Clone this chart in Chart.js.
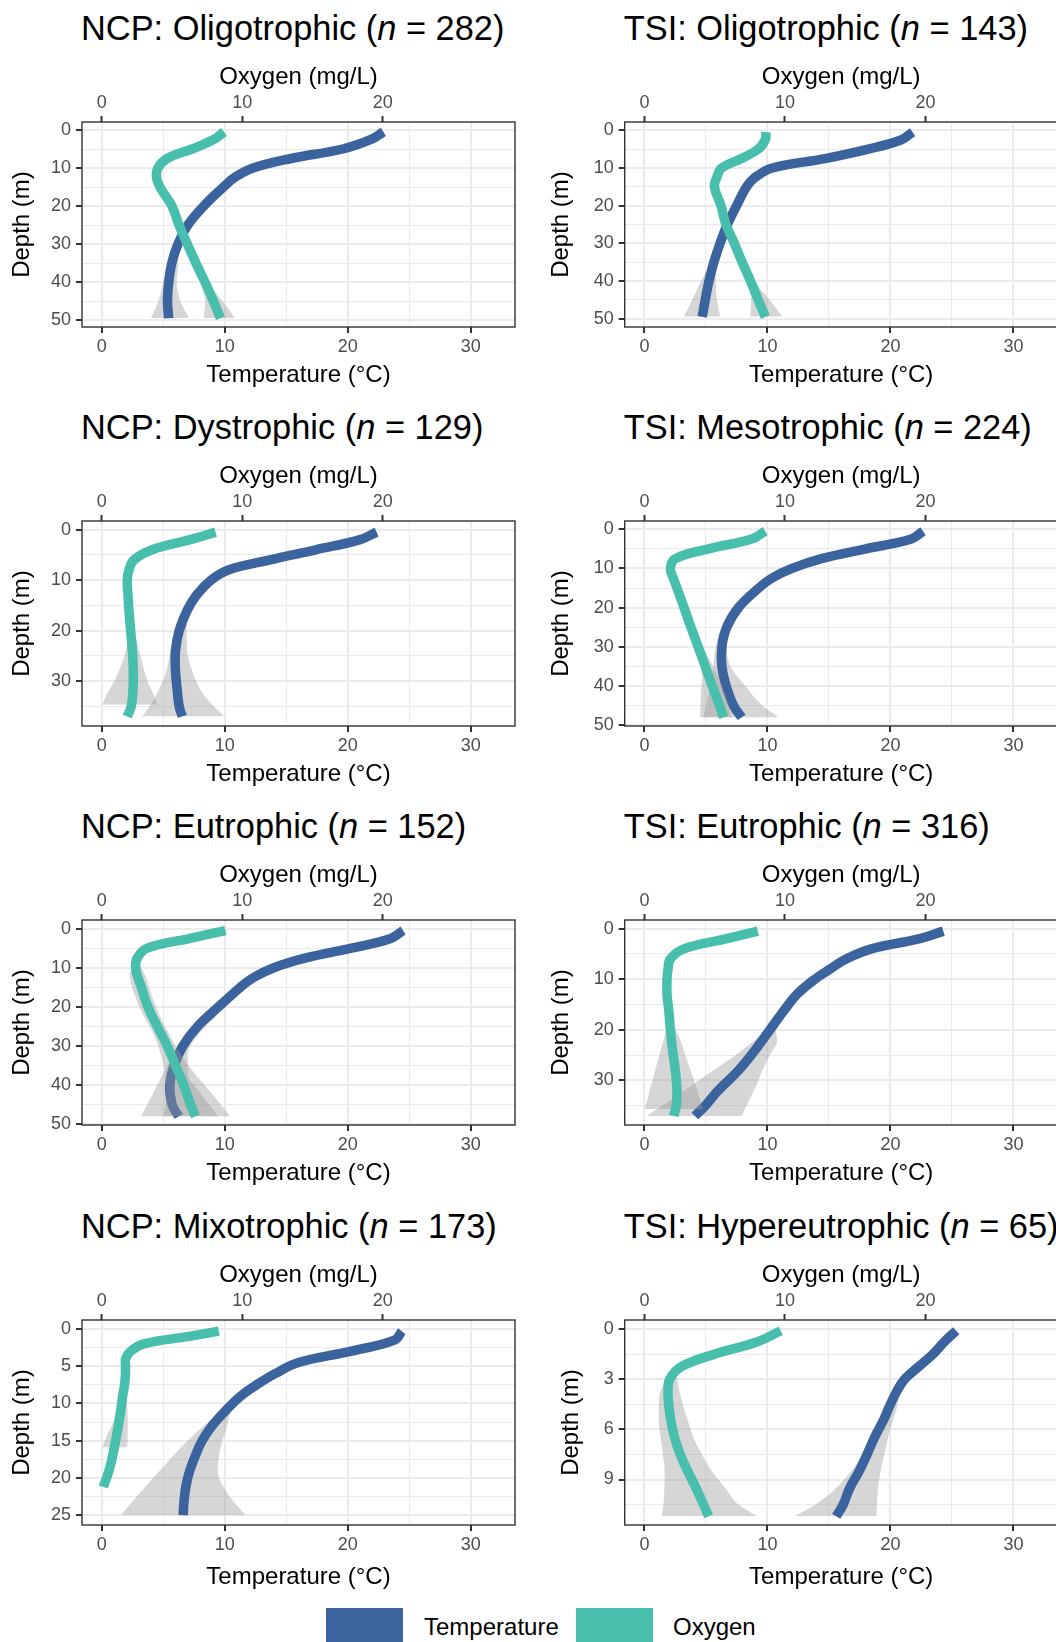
<!DOCTYPE html>
<html lang="en">
<head>
    <meta charset="UTF-8">
    <title>Temperature and oxygen profiles</title>
    <script src="https://cdn.jsdelivr.net/npm/chart.js"></script>
    <style>
        html, body {
            margin: 0;
            padding: 0;
            background: #fff;
            overflow: hidden;
            font-family: "Liberation Sans", Arial, sans-serif;
        }
        #fig {
            position: relative;
            width: 1056px;
            height: 1642px;
            overflow: hidden;
        }
        #fig canvas { position: absolute; }
        .ptitle {
            position: absolute;
            font-size: 34.4px;
            line-height: 34px;
            color: #000;
            white-space: nowrap;
        }
        .key {
            position: absolute;
            top: 1608px;
            width: 77px;
            height: 40px;
        }
        .keylabel {
            position: absolute;
            top: 1615px;
            font-size: 24px;
            line-height: 24px;
            color: #000;
        }
    </style>
</head>
<body>
<div id="fig"></div>

<script>
// panel titles
const schemes = ['NCP', 'TSI', 'NCP', 'TSI', 'NCP', 'TSI', 'NCP', 'TSI'];
const classes = ['Oligotrophic', 'Oligotrophic', 'Dystrophic', 'Mesotrophic',
                 'Eutrophic', 'Eutrophic', 'Mixotrophic', 'Hypereutrophic'];
const sampleSizes = [282, 143, 129, 224, 152, 316, 173, 65];

// axis ticks
const tempTicks = [0, 10, 20, 30];
const tempMinor = [5, 15, 25];
const oxyTicks = [0, 10, 20];
const depthTicks50 = [0, 10, 20, 30, 40, 50];
const depthMinor50 = [5, 15, 25, 35, 45];
const depthTicks30 = [0, 10, 20, 30];
const depthMinor30 = [5, 15, 25, 35];
const depthTicks25 = [0, 5, 10, 15, 20, 25];
const depthMinor25 = [2.5, 7.5, 12.5, 17.5, 22.5];
const depthTicks9 = [0, 3, 6, 9];
const depthMinor9 = [1.5, 4.5, 7.5, 10.5];

// NCP oligotrophic
const ncpOligoDepth = [0.5, 2.5, 5, 7.5, 10, 12.5, 15, 20, 25, 30, 35, 40, 45, 49.5];
const ncpOligoTemp = [22.9, 21.9, 19.6, 15.4, 12.3, 10.8, 9.9, 8.3, 7.0, 6.2, 5.7, 5.45, 5.35, 5.45];
const ncpOligoOxy = [8.7, 7.97, 6.43, 4.66, 4.0, 3.9, 4.14, 5.0, 5.5, 6.1, 6.7, 7.35, 7.95, 8.45];
const ncpOligoTempBandDepth = [30, 36, 40, 45, 49.5];
const ncpOligoTempLo = [6.2, 5.3, 5.0, 4.6, 4.0];
const ncpOligoTempHi = [6.2, 6.2, 6.1, 6.4, 7.1];
const ncpOligoOxyBandDepth = [33, 37, 41, 45, 49.5];
const ncpOligoOxyLo = [6.45, 6.85, 7.1, 7.35, 7.26];
const ncpOligoOxyHi = [6.45, 7.1, 7.75, 8.6, 9.5];
const ncpOligoRange = [-2.1, 51.8];

// TSI oligotrophic
const tsiOligoDepth = [0.5, 2.5, 5, 7.5, 10, 12.5, 15, 20, 25, 30, 35, 40, 45, 49.5];
const tsiOligoTemp = [21.8, 20.9, 18.2, 14.7, 10.4, 9.0, 8.3, 7.5, 6.75, 6.15, 5.65, 5.25, 4.95, 4.7];
const tsiOligoOxy = [8.64, 8.6, 8.1, 6.9, 5.5, 5.15, 4.98, 5.45, 5.8, 6.4, 6.95, 7.55, 8.1, 8.6];
const tsiOligoTempBandDepth = [32, 36, 40, 45, 49.5];
const tsiOligoTempLo = [5.95, 5.3, 4.6, 3.9, 3.2];
const tsiOligoTempHi = [5.95, 5.85, 5.8, 5.9, 6.16];
const tsiOligoOxyBandDepth = [33, 37, 41, 45, 49.5];
const tsiOligoOxyLo = [6.7, 7.05, 7.35, 7.6, 7.52];
const tsiOligoOxyHi = [6.7, 7.3, 8.0, 8.9, 9.82];
const tsiOligoRange = [-2.2, 52.2];

// NCP dystrophic
const ncpDysDepth = [0.5, 2, 4, 6, 8, 10, 13, 16, 20, 24, 28, 32, 35, 37];
const ncpDysTemp = [22.35, 21.0, 17.4, 13.7, 10.3, 8.9, 7.7, 6.95, 6.3, 6.0, 6.0, 6.15, 6.3, 6.55];
const ncpDysOxy = [8.1, 6.3, 3.6, 2.3, 1.94, 1.82, 1.87, 1.94, 2.06, 2.18, 2.25, 2.22, 2.1, 1.82];
const ncpDysTempBandDepth = [15, 20, 24, 28, 32, 35, 37];
const ncpDysTempLo = [7.2, 6.0, 5.6, 5.25, 4.6, 3.9, 3.3];
const ncpDysTempHi = [7.2, 6.9, 6.95, 7.35, 8.1, 9.1, 9.97];
const ncpDysOxyBandDepth = [18, 22, 26, 30, 33, 34.7];
const ncpDysOxyLo = [2.0, 1.85, 1.5, 0.9, 0.3, 0.05];
const ncpDysOxyHi = [2.1, 2.5, 2.85, 3.25, 3.75, 3.95];
const ncpDysRange = [-1.7, 38.9];

// TSI mesotrophic
const tsiMesoDepth = [0.5, 2.5, 5, 7.5, 10, 12.5, 15, 20, 25, 30, 35, 40, 45, 48];
const tsiMesoTemp = [22.65, 21.7, 18.0, 14.4, 12.0, 10.35, 9.3, 7.65, 6.7, 6.3, 6.3, 6.65, 7.25, 7.9];
const tsiMesoOxy = [8.59, 7.64, 4.57, 2.2, 1.85, 2.06, 2.32, 2.82, 3.31, 3.83, 4.33, 4.83, 5.35, 5.63];
const tsiMesoTempBandDepth = [20, 25, 30, 35, 40, 45, 48];
const tsiMesoTempLo = [7.6, 6.3, 5.8, 5.6, 5.35, 5.0, 4.8];
const tsiMesoTempHi = [7.75, 7.0, 6.7, 7.0, 8.2, 9.6, 10.9];
const tsiMesoOxyBandDepth = [28, 33, 38, 43, 48];
const tsiMesoOxyLo = [3.62, 3.9, 4.1, 4.0, 3.97];
const tsiMesoOxyHi = [3.7, 4.6, 5.3, 5.85, 6.2];
const tsiMesoRange = [-2.1, 50.2];

// NCP eutrophic
const ncpEuDepth = [0.5, 2.5, 5, 7.5, 10, 12.5, 15, 20, 25, 30, 35, 40, 45, 48];
const ncpEuTemp = [24.5, 23.5, 20.3, 16.6, 14.0, 12.35, 11.27, 9.5, 7.8, 6.6, 5.9, 5.54, 5.73, 6.27];
const ncpEuOxy = [8.8, 6.3, 3.24, 2.53, 2.41, 2.58, 2.82, 3.29, 3.95, 4.66, 5.25, 5.84, 6.32, 6.67];
const ncpEuTempBandDepth = [17, 22, 27, 32, 37, 42, 48];
const ncpEuTempLo = [10.6, 8.7, 7.0, 5.9, 5.0, 4.2, 3.2];
const ncpEuTempHi = [10.6, 9.4, 7.9, 7.0, 7.0, 8.0, 9.5];
const ncpEuOxyBandDepth = [8, 12, 17, 22, 27, 32, 37, 42, 48];
const ncpEuOxyLo = [2.5, 2.0, 2.35, 2.95, 3.7, 4.2, 4.5, 4.6, 4.42];
const ncpEuOxyHi = [2.5, 3.1, 3.55, 4.1, 4.8, 5.6, 6.6, 7.8, 9.15];
const ncpEuRange = [-2.2, 50.2];

// TSI eutrophic
const tsiEuDepth = [0.5, 2, 4, 6, 8, 10, 13, 16, 20, 24, 28, 32, 35, 37];
const tsiEuTemp = [24.3, 22.4, 18.46, 16.4, 15.1, 13.86, 12.4, 11.4, 10.2, 9.0, 7.65, 6.0, 4.95, 4.1];
const tsiEuOxy = [8.07, 5.87, 2.8, 1.85, 1.68, 1.61, 1.61, 1.73, 1.85, 2.0, 2.2, 2.32, 2.27, 2.08];
const tsiEuTempBandDepth = [19, 22, 25, 28, 31, 34, 37];
const tsiEuTempLo = [10.5, 9.0, 7.4, 5.6, 3.84, 2.03, 0.2];
const tsiEuTempHi = [10.5, 10.8, 10.2, 9.6, 9.1, 8.5, 7.9];
const tsiEuOxyBandDepth = [18, 22, 26, 30, 33, 35.7];
const tsiEuOxyLo = [1.8, 1.35, 0.97, 0.57, 0.28, 0.02];
const tsiEuOxyHi = [1.9, 2.55, 3.03, 3.53, 3.88, 4.2];
const tsiEuRange = [-1.7, 38.8];

// NCP mixotrophic (oxygen profile is shallower)
const ncpMixoDepth = [0.3, 1.5, 3, 4.5, 6, 7.5, 9, 11, 13, 15, 17, 19, 21, 23, 25];
const ncpMixoTemp = [24.4, 23.8, 20.2, 16.0, 14.1, 12.6, 11.3, 10.05, 8.97, 8.16, 7.62, 7.16, 6.86, 6.7, 6.62];
const ncpMixoOxyDepth = [0.3, 1, 2, 3, 4, 5, 7, 9, 11, 13, 15, 17, 19, 21.2];
const ncpMixoOxy = [8.33, 6.2, 3.0, 2.05, 1.7, 1.7, 1.66, 1.49, 1.35, 1.18, 0.99, 0.78, 0.52, 0.12];
const ncpMixoTempBandDepth = [10, 13, 16, 19, 22, 25];
const ncpMixoTempLo = [10.6, 8.3, 6.4, 4.73, 3.1, 1.54];
const ncpMixoTempHi = [10.6, 10.2, 9.65, 9.43, 10.2, 11.7];
const ncpMixoOxyBandDepth = [8, 10, 12, 14, 15.9];
const ncpMixoOxyLo = [1.55, 1.3, 0.95, 0.45, 0.05];
const ncpMixoOxyHi = [1.6, 1.8, 1.85, 1.85, 1.82];
const ncpMixoRange = [-1.2, 26.3];

// TSI hypereutrophic
const tsiHyperDepth = [0.1, 0.75, 1.5, 2.25, 3, 3.75, 4.5, 5.5, 6.5, 7.5, 8.5, 9.5, 10.5, 11.2];
const tsiHyperTemp = [25.35, 24.4, 23.46, 22.3, 21.16, 20.5, 20.0, 19.4, 18.7, 18.1, 17.46, 16.7, 16.16, 15.6];
const tsiHyperOxy = [9.7, 8.1, 5.0, 2.63, 1.8, 1.68, 1.73, 1.89, 2.15, 2.55, 3.08, 3.67, 4.21, 4.57];
const tsiHyperTempBandDepth = [3.5, 4.5, 5.5, 6.5, 7.5, 8.5, 9.5, 10.5, 11.2];
const tsiHyperTempLo = [20.7, 19.8, 19.1, 18.46, 17.8, 16.8, 15.6, 13.9, 12.24];
const tsiHyperTempHi = [20.7, 20.6, 20.2, 19.8, 19.5, 19.2, 19.0, 18.9, 18.86];
const tsiHyperOxyBandDepth = [2.6, 3.5, 4.5, 5.5, 6.5, 7.5, 8.5, 9.5, 10.5, 11.2];
const tsiHyperOxyLo = [2.15, 1.25, 1.02, 1.02, 1.16, 1.32, 1.44, 1.42, 1.35, 1.25];
const tsiHyperOxyHi = [2.25, 2.44, 2.72, 3.1, 3.5, 4.09, 4.8, 5.75, 6.7, 8.0];
const tsiHyperRange = [-0.54, 11.72];

const FONT = '"Liberation Sans", Arial, sans-serif';
const BLUE = '#3B639D';
const TEAL = '#48BFAC';
const BAND = 'rgba(153,153,153,0.4)';
const GRID = '#EBEBEB';
const DARK = '#333333';

// panel table, same order as the titles
const panels = [
    {temp: [ncpOligoDepth, ncpOligoTemp], oxy: [ncpOligoDepth, ncpOligoOxy],
     tBand: [ncpOligoTempBandDepth, ncpOligoTempLo, ncpOligoTempHi],
     oBand: [ncpOligoOxyBandDepth, ncpOligoOxyLo, ncpOligoOxyHi],
     range: ncpOligoRange, ticks: depthTicks50, minor: depthMinor50},
    {temp: [tsiOligoDepth, tsiOligoTemp], oxy: [tsiOligoDepth, tsiOligoOxy],
     tBand: [tsiOligoTempBandDepth, tsiOligoTempLo, tsiOligoTempHi],
     oBand: [tsiOligoOxyBandDepth, tsiOligoOxyLo, tsiOligoOxyHi],
     range: tsiOligoRange, ticks: depthTicks50, minor: depthMinor50},
    {temp: [ncpDysDepth, ncpDysTemp], oxy: [ncpDysDepth, ncpDysOxy],
     tBand: [ncpDysTempBandDepth, ncpDysTempLo, ncpDysTempHi],
     oBand: [ncpDysOxyBandDepth, ncpDysOxyLo, ncpDysOxyHi],
     range: ncpDysRange, ticks: depthTicks30, minor: depthMinor30},
    {temp: [tsiMesoDepth, tsiMesoTemp], oxy: [tsiMesoDepth, tsiMesoOxy],
     tBand: [tsiMesoTempBandDepth, tsiMesoTempLo, tsiMesoTempHi],
     oBand: [tsiMesoOxyBandDepth, tsiMesoOxyLo, tsiMesoOxyHi],
     range: tsiMesoRange, ticks: depthTicks50, minor: depthMinor50},
    {temp: [ncpEuDepth, ncpEuTemp], oxy: [ncpEuDepth, ncpEuOxy],
     tBand: [ncpEuTempBandDepth, ncpEuTempLo, ncpEuTempHi],
     oBand: [ncpEuOxyBandDepth, ncpEuOxyLo, ncpEuOxyHi],
     range: ncpEuRange, ticks: depthTicks50, minor: depthMinor50},
    {temp: [tsiEuDepth, tsiEuTemp], oxy: [tsiEuDepth, tsiEuOxy],
     tBand: [tsiEuTempBandDepth, tsiEuTempLo, tsiEuTempHi],
     oBand: [tsiEuOxyBandDepth, tsiEuOxyLo, tsiEuOxyHi],
     range: tsiEuRange, ticks: depthTicks30, minor: depthMinor30},
    {temp: [ncpMixoDepth, ncpMixoTemp], oxy: [ncpMixoOxyDepth, ncpMixoOxy],
     tBand: [ncpMixoTempBandDepth, ncpMixoTempLo, ncpMixoTempHi],
     oBand: [ncpMixoOxyBandDepth, ncpMixoOxyLo, ncpMixoOxyHi],
     range: ncpMixoRange, ticks: depthTicks25, minor: depthMinor25},
    {temp: [tsiHyperDepth, tsiHyperTemp], oxy: [tsiHyperDepth, tsiHyperOxy],
     tBand: [tsiHyperTempBandDepth, tsiHyperTempLo, tsiHyperTempHi],
     oBand: [tsiHyperOxyBandDepth, tsiHyperOxyLo, tsiHyperOxyHi],
     range: tsiHyperRange, ticks: depthTicks9, minor: depthMinor9}
];

// layout of the 2x4 grid (the right column runs off the page, like the original)
const colLeft = [0, 540];
const yAxisW = [82, 84.7];
const plotTop = [122, 521, 920, 1319.5];
const PLOT_W = 433, PLOT_H = 205, AXIS_H = 72;

Chart.defaults.font.family = FONT;

function pts(depths, vals) {
    return depths.map((d, i) => ({x: vals[i], y: d}));
}

// confidence band = lower edge + upper edge filled back to it
function bandSets(band, axisId, order) {
    return [
        {data: pts(band[0], band[1]), xAxisID: axisId, borderWidth: 0, fill: false, order: order + 1},
        {data: pts(band[0], band[2]), xAxisID: axisId, borderWidth: 0, fill: '-1',
         backgroundColor: BAND, order: order}
    ];
}

function profileSet(prof, axisId, color, order) {
    return {data: pts(prof[0], prof[1]), xAxisID: axisId, borderColor: color, borderWidth: 9.5,
            fill: false, order: order, cubicInterpolationMode: 'default', tension: 0.4};
}

// chart area frame on top of everything, as in theme_bw
const framePlugin = {
    id: 'frame',
    afterDatasetsDraw(chart) {
        const a = chart.chartArea, ctx = chart.ctx;
        ctx.save();
        ctx.strokeStyle = DARK;
        ctx.lineWidth = 1.4;
        ctx.strokeRect(a.left, a.top, a.right - a.left, a.bottom - a.top);
        ctx.restore();
    }
};

function tickFont() { return {size: 18, family: FONT}; }
function titleFont() { return {size: 24, family: FONT}; }

function makePanel(i) {
    const p = panels[i];
    const col = i % 2, row = Math.floor(i / 2);
    const fig = document.getElementById('fig');

    const yw = yAxisW[col];
    const cw = Math.ceil(yw + PLOT_W + 5);
    const ch = AXIS_H + PLOT_H + AXIS_H;
    const left = colLeft[col];
    const top = plotTop[row] - AXIS_H;

    const title = document.createElement('div');
    title.className = 'ptitle';
    title.style.left = (left + yw - 1) + 'px';
    title.style.top = (plotTop[row] - 110.8) + 'px';
    title.innerHTML = schemes[i] + ': ' + classes[i] + ' (<i>n</i> = ' + sampleSizes[i] + ')';
    fig.appendChild(title);

    const cv = document.createElement('canvas');
    cv.width = cw;
    cv.height = ch;
    cv.style.left = left + 'px';
    cv.style.top = top + 'px';
    cv.style.width = cw + 'px';
    cv.style.height = ch + 'px';
    fig.appendChild(cv);

    // space between depth title and panel: single digit labels sit closer
    const depthPad = col === 0 ? 7.6 : (p.ticks === depthTicks9 ? 16.9 : 6.9);
    const tempPad = row === 3 ? 5.6 : 9.6;

    const yGrid = p.ticks.concat(p.minor).sort((a, b) => a - b);
    const xGrid = tempTicks.concat(tempMinor).sort((a, b) => a - b);

    const datasets = [].concat(
        bandSets(p.tBand, 'x', 5),
        [profileSet(p.temp, 'x', BLUE, 4)],
        bandSets(p.oBand, 'x2', 2),
        [profileSet(p.oxy, 'x2', TEAL, 1)]
    );

    new Chart(cv, {
        type: 'line',
        data: {datasets: datasets},
        plugins: [framePlugin],
        options: {
            indexAxis: 'y',
            responsive: false,
            animation: false,
            layout: {padding: {left: 0, right: cw - yw - PLOT_W, top: 0, bottom: 0}},
            elements: {
                point: {radius: 0},
                line: {cubicInterpolationMode: 'monotone', borderCapStyle: 'butt', borderJoinStyle: 'round'}
            },
            plugins: {legend: {display: false}, tooltip: {enabled: false}, title: {display: false}},
            scales: {
                x: {
                    type: 'linear', position: 'bottom', min: -1.6, max: 33.6,
                    afterBuildTicks: s => { s.ticks = xGrid.map(v => ({value: v})); },
                    afterFit: s => { s.height = AXIS_H; },
                    border: {display: false},
                    grid: {
                        color: GRID,
                        lineWidth: c => tempTicks.includes(c.tick.value) ? 2 : 1,
                        drawTicks: true, tickLength: 6, tickWidth: 2,
                        tickColor: c => tempTicks.includes(c.tick.value) ? DARK : 'rgba(0,0,0,0)'
                    },
                    ticks: {
                        autoSkip: false, maxRotation: 0, minRotation: 0, padding: 3.2,
                        color: '#4D4D4D', font: tickFont(),
                        callback: v => tempTicks.includes(v) ? String(v) : ''
                    },
                    title: {display: true, text: 'Temperature (°C)', color: '#000', font: titleFont(),
                            padding: {top: 0, bottom: tempPad}}
                },
                x2: {
                    type: 'linear', axis: 'x', position: 'top', min: -1.4, max: 29.4,
                    afterBuildTicks: s => { s.ticks = oxyTicks.map(v => ({value: v})); },
                    afterFit: s => { s.height = AXIS_H; },
                    border: {display: false},
                    grid: {drawOnChartArea: false, drawTicks: true, tickLength: 6, tickWidth: 2, tickColor: DARK},
                    ticks: {autoSkip: false, maxRotation: 0, minRotation: 0, padding: 2.2,
                            color: '#4D4D4D', font: tickFont()},
                    title: {display: true, text: 'Oxygen (mg/L)', color: '#000', font: titleFont(),
                            padding: {top: 12.6, bottom: 0}}
                },
                y: {
                    type: 'linear', position: 'left', reverse: true, min: p.range[0], max: p.range[1],
                    afterBuildTicks: s => { s.ticks = yGrid.map(v => ({value: v})); },
                    afterFit: s => { s.width = yw; },
                    border: {display: false},
                    grid: {
                        color: GRID,
                        lineWidth: c => p.ticks.includes(c.tick.value) ? 2 : 1,
                        drawTicks: true, tickLength: 6, tickWidth: 2,
                        tickColor: c => p.ticks.includes(c.tick.value) ? DARK : 'rgba(0,0,0,0)'
                    },
                    ticks: {
                        autoSkip: false, padding: 5, color: '#4D4D4D', font: tickFont(),
                        callback: v => p.ticks.includes(v) ? String(v) : ''
                    },
                    title: {display: true, text: 'Depth (m)', color: '#000', font: titleFont(),
                            padding: {top: depthPad, bottom: 0}}
                }
            }
        }
    });
}

for (let i = 0; i < panels.length; i++) {
    makePanel(i);
}

// shared legend at the bottom
const legendItems = [['Temperature', BLUE, 326, 424], ['Oxygen', TEAL, 576, 673]];
legendItems.forEach(([label, color, keyX, textX]) => {
    const fig = document.getElementById('fig');
    const key = document.createElement('div');
    key.className = 'key';
    key.style.left = keyX + 'px';
    key.style.background = color;
    fig.appendChild(key);
    const txt = document.createElement('div');
    txt.className = 'keylabel';
    txt.style.left = textX + 'px';
    txt.textContent = label;
    fig.appendChild(txt);
});
</script>
</body>
</html>
